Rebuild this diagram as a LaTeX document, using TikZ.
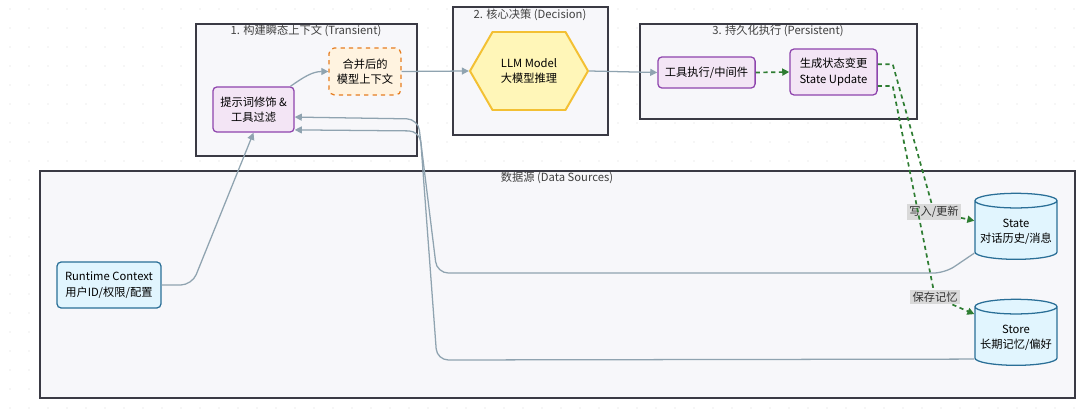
\documentclass[tikz,border=0pt]{standalone}
\usepackage{fontspec}
\setmainfont{Noto Sans CJK SC}
\usepackage{tikz}
\usetikzlibrary{arrows.meta,shapes.geometric,shapes.symbols}

\definecolor{edgegray}{HTML}{8FA3B0}
\definecolor{groupfill}{HTML}{F7F7FA}
\definecolor{groupline}{HTML}{3A3A44}
\definecolor{purpfill}{HTML}{F3E5F5}
\definecolor{purpline}{HTML}{8E44AD}
\definecolor{orfill}{HTML}{FFF3E0}
\definecolor{orline}{HTML}{E67E22}
\definecolor{yelfill}{HTML}{FFF6B8}
\definecolor{yelline}{HTML}{F3C033}
\definecolor{bluefill}{HTML}{E1F5FE}
\definecolor{blueline}{HTML}{2A6F97}
\definecolor{savegreen}{HTML}{2E7D32}

\begin{document}
\begin{tikzpicture}[
  x=0.025cm, y=-0.025cm,
  font=\fontsize{8}{11}\selectfont,
  group/.style={draw=groupline, fill=groupfill, line width=0.9pt},
  grouptitle/.style={text=black!75, inner sep=1pt},
  proc/.style={rectangle, draw=purpline, fill=purpfill, rounded corners=3pt, line width=0.9pt, align=center},
  merged/.style={rectangle, draw=orline, fill=orfill, rounded corners=4pt, dashed, line width=0.9pt, align=center, minimum width=1.8cm, minimum height=1.18cm},
  llm/.style={signal, signal to=east and west, signal pointer angle=120, draw=yelline, fill=yelfill, line width=1.4pt, align=center, minimum width=2.95cm, minimum height=1.95cm},
  ctx/.style={rectangle, draw=blueline, fill=bluefill, rounded corners=3pt, line width=0.9pt, align=center, minimum width=2.6cm, minimum height=1.15cm},
  db/.style={cylinder, shape border rotate=90, aspect=0.18, draw=blueline, fill=bluefill, line width=0.9pt, align=center, minimum width=2.05cm, minimum height=1.65cm},
  arr/.style={-{Triangle[length=5pt,width=5pt]}, edgegray, line width=0.9pt, rounded corners=8pt},
  savearr/.style={-{Triangle[length=5pt,width=5pt]}, savegreen, line width=1.2pt, dash pattern=on 3pt off 2.5pt},
  elabel/.style={fill=black!15, text=black!80, inner sep=1.5pt}
]
\useasboundingbox (0,0) rectangle (1080,412);

% dotted backdrop
\foreach \x in {10,29,...,1080}
  \foreach \y in {9,28,...,412}
    \fill[black!15] (\x,\y) circle (0.45pt);

% groups
\draw[group] (40,171) rectangle (1075,398);
\node[grouptitle] (datatitle) at (557,178) {数据源 (Data Sources)};
\draw[group] (196,24) rectangle (417,156);
\node[grouptitle] (p1title) at (306,31) {1. 构建瞬态上下文 (Transient)};
\draw[group] (453,7) rectangle (608,135);
\node[grouptitle] (p2title) at (530,15) {2. 核心决策 (Decision)};
\draw[group] (640,24) rectangle (917,119);
\node[grouptitle] (p3title) at (778,31) {3. 持久化执行 (Persistent)};

% nodes
\node[proc, minimum width=2.03cm, minimum height=1.13cm] (prompt) at (253.5,109.5) {提示词修饰 \&\\工具过滤};
\node[merged] (ctxmerge) at (365,71.5) {合并后的\\模型上下文};
\node[llm] (model) at (529,71) {LLM Model\\大模型推理};
\node[proc, minimum width=2.43cm, minimum height=0.78cm] (tools) at (706.5,72.5) {工具执行/中间件};
\node[proc, minimum width=2.18cm, minimum height=1.15cm] (update) at (833.5,72) {生成状态变更\\State Update};
\node[ctx] (runtime) at (109,285) {Runtime Context\\用户ID/权限/配置};
\node[db] (state) at (1016,232) {State\\对话历史/消息};
\node[db] (store) at (1016,338) {Store\\长期记忆/偏好};

% edge labels
\node[elabel] (writelbl) at (934,212) {写入/更新};
\node[elabel] (savelbl) at (935,297) {保存记忆};

% flow
\draw[arr] (runtime.east) -- (192,285) -- (prompt.south);
\draw[arr] ([xshift=-3pt]prompt.north east) to[out=35,in=180] (ctxmerge.west);
\draw[arr] (ctxmerge.east) -- (model.west);
\draw[arr] (model.east) -- (tools.west);
\draw[savearr] (tools.east) -- (update.west);

% writes
\draw[savearr] ([yshift=5.5pt]update.east) -- ++(15,0) -- (writelbl) -- ([yshift=8pt]state.west);
\draw[savearr] ([yshift=-10pt]update.east) -- ++(15,0) -- (savelbl) -- ([yshift=17pt]store.west);

% reads back
\draw[arr] ([yshift=-15pt]state.west) -- (945,273) -- (437,273) -- (418,119) -- ([yshift=-5.4pt]prompt.east);
\draw[arr] ([yshift=-15pt]store.west) -- (437,360) -- (420,131) -- ([yshift=-14.5pt]prompt.east);
\end{tikzpicture}
\end{document}
